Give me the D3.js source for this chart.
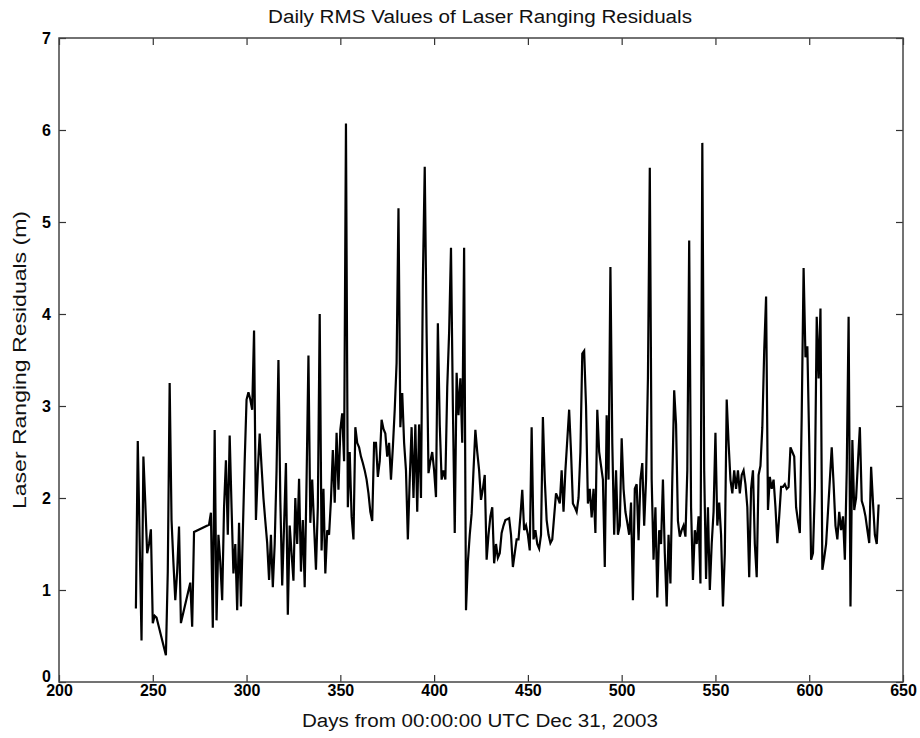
<!DOCTYPE html>
<html>
<head>
<meta charset="utf-8">
<script src="https://cdn.jsdelivr.net/npm/d3@7"></script>
<style>
  body { margin: 0; background: #fff; }
  svg { display: block; }
  .tick text { font-family: "Liberation Sans", Arial, sans-serif; font-weight: bold; font-size: 16px; fill: #000; }
  .label { font-family: "Liberation Sans", Arial, sans-serif; font-size: 18px; fill: #111; }
</style>
</head>
<body>
<svg id="chart" width="920" height="738"></svg>
<script>
// Daily RMS residuals, one value per day, grouped in runs of consecutive days
const run1Start = 241;
const run1 = [0.80, 2.62, 1.55, 0.45, 2.45, 1.95, 1.40, 1.50, 1.66, 0.64, 0.72, 0.70];
const run2Start = 257;
const run2 = [0.29, 1.20, 3.25, 1.76, 1.30, 0.89, 1.20, 1.69, 0.64];
const run3Start = 270;
const run3 = [1.08, 0.60, 1.63];
const run4Start = 280;
const run4 = [
  1.71, 1.84, 0.59, 2.74, 0.67, 1.60, 1.30, 0.89, 1.90, 2.41,
  1.60, 2.68, 1.90, 1.18, 1.50, 0.78, 1.73, 0.82, 1.62, 2.40,
  3.07, 3.15, 3.07, 2.96, 3.82, 1.76, 2.30, 2.70, 2.34, 2.00,
  1.75, 1.51, 1.11, 1.60, 1.03, 1.50, 2.30, 3.50, 1.98, 1.05,
  1.70, 2.38, 0.73, 1.70, 1.40, 1.10, 2.00, 1.50, 2.21, 1.20,
  1.76, 1.03, 2.20, 3.55, 1.73, 2.20, 1.70, 1.22, 1.90, 4.00,
  1.43, 2.10, 1.18, 1.65, 1.60, 1.98, 2.52, 1.95, 2.71, 2.09,
  2.74, 2.92, 2.40, 6.07, 1.90, 2.50, 1.80, 1.55];
const run5Start = 358;
const run5 = [
  2.77, 2.60, 2.55, 2.45, 2.38, 2.30, 2.20, 2.05, 1.85, 1.75,
  2.60, 2.60, 2.23, 2.40, 2.85, 2.75, 2.70, 2.45, 2.60, 2.20,
  2.55, 2.96, 3.47, 5.15, 2.77, 3.14, 2.60, 2.30, 1.55, 2.20,
  2.77, 2.00, 2.80, 1.85, 2.80, 2.00, 4.37, 5.60, 3.79, 2.27,
  2.40, 2.50, 2.30, 2.01, 3.90, 2.80, 2.20, 2.30, 2.20, 3.20,
  3.80, 4.72, 3.00, 1.62, 3.36, 2.90, 3.30, 2.60, 4.72, 0.78,
  1.30, 1.60, 1.83, 2.30, 2.74, 2.50, 2.30, 1.98, 2.10, 2.25,
  1.33, 1.60, 1.80, 1.90, 1.29, 1.50, 1.35, 1.40, 1.62, 1.70];
const run6Start = 438;
const run6 = [
  1.76, 1.77, 1.78, 1.60, 1.25, 1.40, 1.55, 1.55, 1.80, 2.09,
  1.65, 1.70, 1.60, 1.43, 2.77, 1.55, 1.65, 1.50, 1.45, 1.60,
  2.88, 2.20, 1.76, 1.60, 1.51, 1.55, 1.80, 2.05, 2.00, 1.94,
  2.30, 1.85, 2.30, 2.63, 2.96, 2.50, 1.94, 1.90, 1.85, 2.00,
  2.50, 3.57, 3.60, 3.00, 1.94, 2.10, 1.79, 2.10, 1.62, 2.96,
  2.50, 2.35, 2.20, 1.25, 2.90, 2.20, 4.51, 2.60, 1.60, 2.30,
  1.60, 1.70, 2.65, 2.10, 1.85, 1.73, 1.60, 1.95, 0.89, 2.10,
  2.15, 1.54, 2.20, 2.38, 1.70, 2.20, 3.30, 5.59, 2.20, 1.33,
  1.90, 0.92, 1.65, 1.50, 2.20, 1.40, 0.82, 1.60, 1.07, 2.20,
  3.17, 2.80, 1.75, 1.58, 1.65, 1.70, 1.58, 2.30, 4.80, 1.90];
const run7Start = 538;
const run7 = [
  1.11, 1.65, 1.50, 1.80, 1.07, 5.86, 2.30, 1.12, 1.90, 1.00,
  1.50, 1.85, 2.71, 1.70, 1.95, 1.60, 0.82, 1.40, 3.07, 2.60,
  2.20, 2.05, 2.30, 2.10, 2.30, 2.05, 2.25, 2.30, 2.15, 1.90,
  1.14, 2.10, 2.30, 1.50, 1.14, 2.25, 2.35, 2.77, 3.60, 4.19,
  1.87, 2.23, 2.10, 2.20, 1.90, 1.51, 1.80, 2.12, 2.12, 2.15,
  2.10, 2.12, 2.55, 2.50, 2.45, 1.90, 1.75, 1.62, 2.90, 4.50,
  3.53, 3.65, 2.60, 1.33, 1.40, 2.10, 3.97, 3.30, 4.06, 1.22,
  1.35, 1.50, 1.85, 2.20, 2.55, 2.15, 1.70, 1.55, 1.85, 1.65,
  1.80, 1.33, 2.30, 3.97, 0.82, 2.63, 1.87, 2.00, 2.40, 2.77,
  1.97, 1.90, 1.80, 1.65, 1.51, 2.34, 1.95, 1.60, 1.50, 1.93];

const xTicks = [200, 250, 300, 350, 400, 450, 500, 550, 600, 650];
const yTicks = [0, 1, 2, 3, 4, 5, 6, 7];

const runs = [
  [run1Start, run1], [run2Start, run2], [run3Start, run3], [run4Start, run4],
  [run5Start, run5], [run6Start, run6], [run7Start, run7]];
const data = runs.flatMap(([start, vals]) => vals.map((v, i) => ({ day: start + i, rms: v })));

const svg = d3.select("#chart");
const margin = { top: 38, right: 17, bottom: 56, left: 59 };
const width = 920 - margin.left - margin.right;
const height = 738 - margin.top - margin.bottom;
const g = svg.append("g").attr("transform", `translate(${margin.left},${margin.top})`);

const x = d3.scaleLinear().domain([200, 650]).range([0, width]);
const y = d3.scaleLinear().domain([0, 7]).range([height, 0]);

// axes, MATLAB style ticks pointing inwards on all four sides
g.append("g")
  .attr("class", "axis axis--x")
  .attr("transform", `translate(0,${height})`)
  .call(d3.axisBottom(x).tickValues(xTicks).tickFormat(d3.format("d"))
    .tickSizeInner(-7).tickSizeOuter(0).tickPadding(3));
g.append("g")
  .attr("class", "axis axis--x2")
  .call(d3.axisTop(x).tickValues(xTicks).tickSizeInner(-7).tickSizeOuter(0).tickFormat(""));
g.append("g")
  .attr("class", "axis axis--y")
  .call(d3.axisLeft(y).tickValues(yTicks).tickFormat(d3.format("d"))
    .tickSizeInner(-7).tickSizeOuter(0).tickPadding(8));
g.append("g")
  .attr("class", "axis axis--y2")
  .attr("transform", `translate(${width},0)`)
  .call(d3.axisRight(y).tickValues(yTicks).tickSizeInner(-7).tickSizeOuter(0).tickFormat(""));

g.selectAll(".axis .domain").remove();
g.selectAll(".axis line").attr("stroke", "#333").attr("stroke-width", 1.2);

// nudge the "0" up so it doesn't sit on top of "200"
g.selectAll(".axis--y .tick text").filter(d => d === 0).attr("dy", "-0.05em");

g.append("rect")
  .attr("width", width)
  .attr("height", height)
  .attr("fill", "none")
  .attr("stroke", "#444")
  .attr("stroke-width", 1.5);

const line = d3.line().x(d => x(d.day)).y(d => y(d.rms));
g.append("path")
  .datum(data)
  .attr("fill", "none")
  .attr("stroke", "#000")
  .attr("stroke-width", 2.2)
  .attr("stroke-linejoin", "miter")
  .attr("d", line);

svg.append("text")
  .attr("class", "label")
  .attr("x", 480)
  .attr("y", 23)
  .attr("text-anchor", "middle")
  .attr("textLength", 424)
  .attr("lengthAdjust", "spacingAndGlyphs")
  .text("Daily RMS Values of Laser Ranging Residuals");

svg.append("text")
  .attr("class", "label")
  .attr("x", 480)
  .attr("y", 727)
  .attr("text-anchor", "middle")
  .attr("textLength", 356)
  .attr("lengthAdjust", "spacingAndGlyphs")
  .text("Days from 00:00:00 UTC Dec 31, 2003");

svg.append("text")
  .attr("class", "label")
  .attr("transform", "rotate(-90)")
  .attr("x", -360)
  .attr("y", 26)
  .attr("text-anchor", "middle")
  .attr("textLength", 298)
  .attr("lengthAdjust", "spacingAndGlyphs")
  .text("Laser Ranging Residuals (m)");
</script>
</body>
</html>
